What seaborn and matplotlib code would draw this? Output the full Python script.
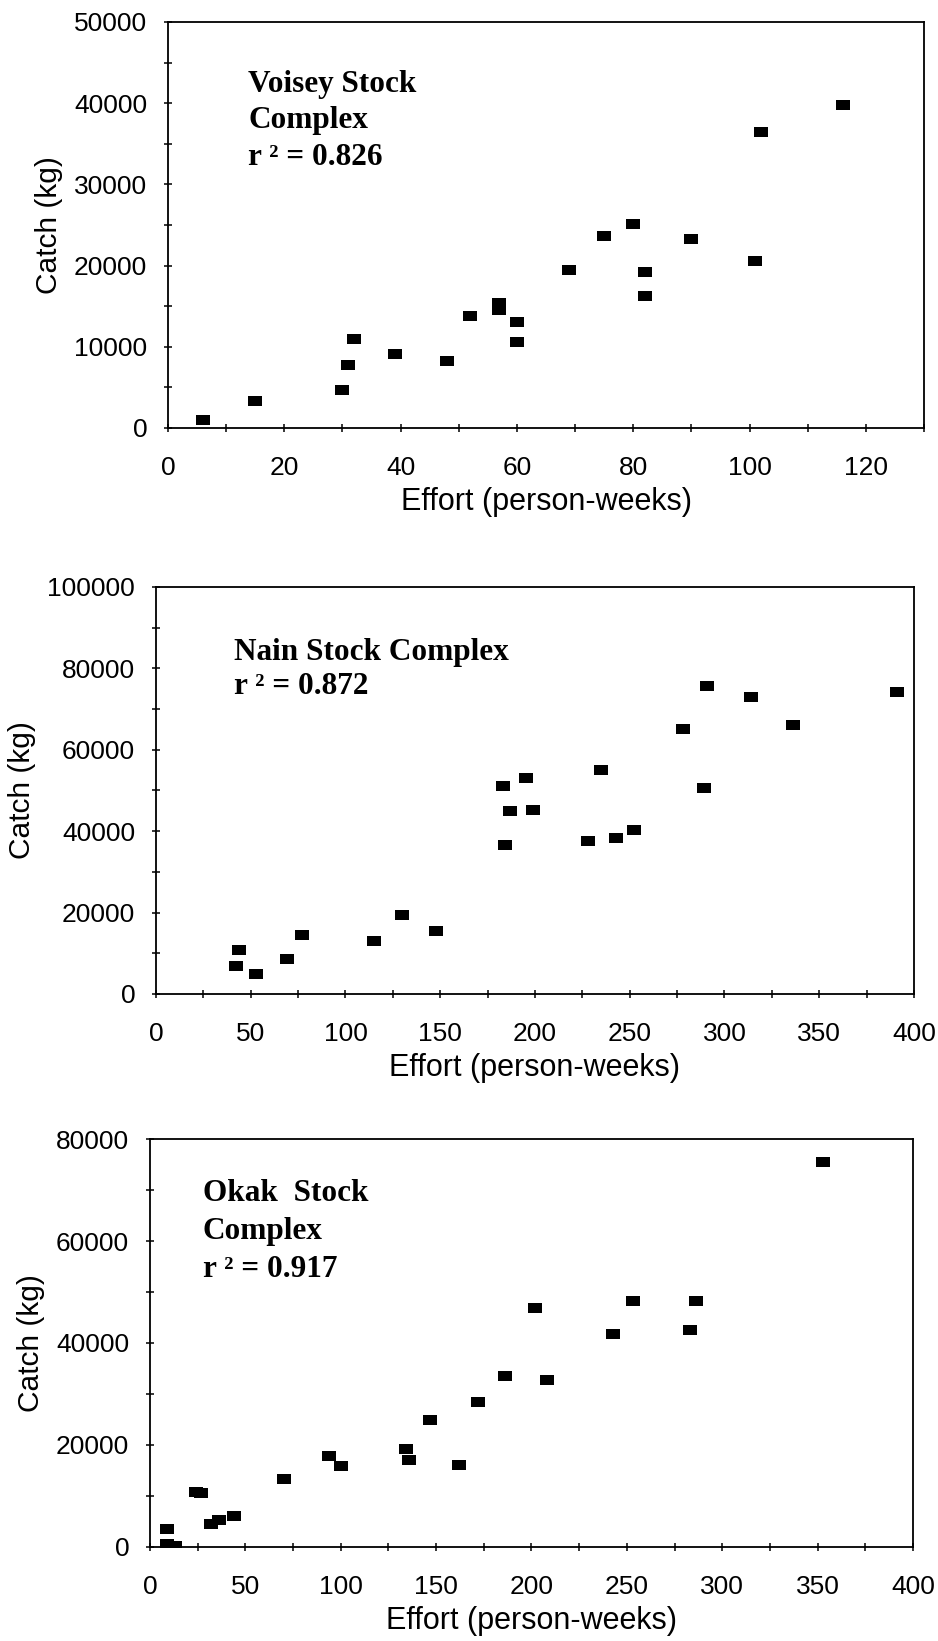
import matplotlib
matplotlib.use("Agg")
import matplotlib.pyplot as plt
from matplotlib.markers import MarkerStyle
from matplotlib.ticker import MultipleLocator
import seaborn as sns
import pandas as pd

# ---------------- data ----------------
voisey_effort = [6, 15, 30, 31, 32, 39, 48, 52, 57, 57, 60, 60, 69, 75, 80, 82, 82, 90, 101, 102, 116]
voisey_catch = [1000, 3300, 4700, 7800, 10900, 9100, 8200, 13800, 15400, 14500, 13000, 10600,
                19500, 23700, 25100, 19250, 16300, 23300, 20600, 36400, 39800]

nain_effort = [42, 44, 53, 69, 77, 115, 130, 148, 183, 184, 187, 195, 199, 228, 235, 243, 252,
               278, 289, 291, 314, 336, 391]
nain_catch = [6900, 10800, 4800, 8700, 14400, 13100, 19300, 15500, 51200, 36600, 45000, 53000,
              45300, 37700, 55100, 38200, 40400, 65000, 50600, 75600, 73000, 66000, 74100]

okak_effort = [9, 9, 13, 24, 27, 32, 36, 44, 70, 94, 100, 134, 136, 147, 162, 172, 186, 202,
               208, 243, 253, 283, 286, 353]
okak_catch = [3500, 600, 200, 10800, 10500, 4500, 5300, 6000, 13300, 17800, 15900, 19200, 17100,
              24900, 16100, 28400, 33600, 46900, 32700, 41700, 48200, 42600, 48200, 75400]

titles = [["Voisey Stock", "Complex", "r \u00b2 = 0.826"],
          ["Nain Stock Complex", "r \u00b2 = 0.872"],
          ["Okak  Stock", "Complex", "r \u00b2 = 0.917"]]
x_label = "Effort (person-weeks)"
y_label = "Catch (kg)"

# ---------------- style ----------------
sns.set_style("ticks")
plt.rcParams["font.family"] = ["Liberation Sans", "DejaVu Sans"]

fig = plt.figure(figsize=(9.38, 16.41), dpi=100)
fig.patch.set_facecolor("white")

rect_marker = MarkerStyle([(-1, -0.64), (1, -0.64), (1, 0.64), (-1, 0.64), (-1, -0.64)])

panels = [
    dict(rect=[0.1791, 0.7392, 0.8060, 0.2474], x=voisey_effort, y=voisey_catch,
         xlim=(0, 130), ylim=(0, 50000), xmaj=20, xmin=10, ymaj=10000, ymin=5000,
         tx=0.106, ty=[0.828, 0.739, 0.648], title=titles[0]),
    dict(rect=[0.1663, 0.3943, 0.8081, 0.2480], x=nain_effort, y=nain_catch,
         xlim=(0, 400), ylim=(0, 100000), xmaj=50, xmin=25, ymaj=20000, ymin=10000,
         tx=0.103, ty=[0.820, 0.736], title=titles[1]),
    dict(rect=[0.1599, 0.0573, 0.8134, 0.2486], x=okak_effort, y=okak_catch,
         xlim=(0, 400), ylim=(0, 80000), xmaj=50, xmin=25, ymaj=20000, ymin=10000,
         tx=0.069, ty=[0.848, 0.756, 0.662], title=titles[2]),
]

for p in panels:
    ax = fig.add_axes(p["rect"])
    df = pd.DataFrame({"effort": p["x"], "catch": p["y"]})
    sns.scatterplot(data=df, x="effort", y="catch", ax=ax, color="black",
                    marker=rect_marker, s=105, linewidth=0, legend=False)
    ax.set_xlim(*p["xlim"])
    ax.set_ylim(*p["ylim"])
    ax.xaxis.set_major_locator(MultipleLocator(p["xmaj"]))
    ax.xaxis.set_minor_locator(MultipleLocator(p["xmin"]))
    ax.yaxis.set_major_locator(MultipleLocator(p["ymaj"]))
    ax.yaxis.set_minor_locator(MultipleLocator(p["ymin"]))
    for s in ax.spines.values():
        s.set_visible(True)
        s.set_color("black")
        s.set_linewidth(1.3)
    ax.tick_params(axis="both", which="both", direction="inout", length=6, width=1.1,
                   color="black", labelsize=19, labelcolor="black")
    ax.tick_params(axis="x", which="both", pad=17)
    ax.tick_params(axis="y", which="both", pad=12)
    ax.set_xlabel(x_label, fontsize=22, labelpad=5, color="black")
    ax.set_ylabel(y_label, fontsize=21.5, labelpad=8, color="black")
    for line, yy in zip(p["title"], p["ty"]):
        ax.text(p["tx"], yy, line, transform=ax.transAxes, ha="left", va="baseline",
                fontsize=22.5, fontweight="bold", family=["Liberation Serif", "DejaVu Serif"],
                color="black")

fig.savefig("out.png", dpi=100, facecolor="white")
